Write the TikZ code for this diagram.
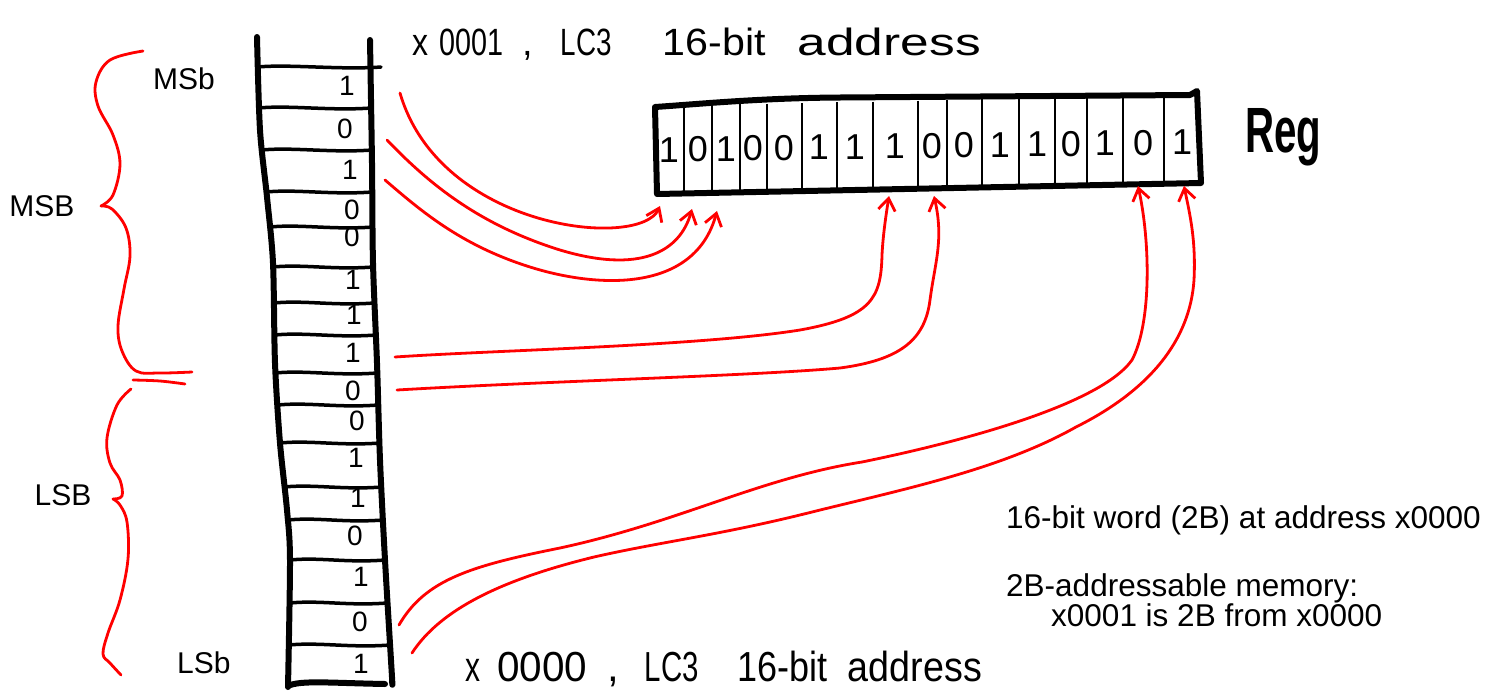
\documentclass[tikz,border=0pt]{standalone}
\usepackage{fontspec}
\usepackage{graphicx}
\setmainfont{Liberation Sans}
\usetikzlibrary{arrows.meta}
\newcommand{\hw}[2]{\resizebox{#1}{\height}{#2}}
\tikzset{
  memedge/.style={line width=6pt, line cap=round, line join=round},
  rowline/.style={line width=3.5pt, line cap=round},
  regbox/.style={line width=6pt, line join=round, line cap=round},
  regdiv/.style={line width=2.6pt},
  redarrow/.style={red, line width=2.8pt, line cap=round, -{Straight Barb[length=12pt,width=17pt]}},
  bracestroke/.style={red, line width=2.8pt, line cap=round, line join=round},
  membit/.style={font=\fontsize{28}{32}\selectfont, inner sep=0pt},
  regbit/.style={font=\fontsize{36}{40}\selectfont, inner sep=0pt},
  label/.style={font=\fontsize{30}{36}\selectfont, inner sep=0pt},
  note/.style={font=\fontsize{31.5}{36}\selectfont, inner sep=0pt, anchor=base west},
  hand/.style={inner sep=0pt, anchor=base west},
}
\begin{document}
\begin{tikzpicture}[x=1pt,y=-1pt]
\useasboundingbox (0,0) rectangle (1492,691);

% ---------------- memory column ----------------
\draw[memedge] plot[smooth] coordinates {(257,37) (260,130) (267,197) (273,263) (275,363) (280,443) (287,510) (290,560) (288,687)};
\draw[memedge] plot[smooth] coordinates {(370,40) (372,163) (373,263) (377,363) (380,460) (385,560) (392,677) (392,680)};
\draw[memedge] (288,686) .. controls (300,680) and (330,683) .. (385,684);
\foreach \y/\l/\r in {67/258/381,108/259/371,150/262/372,192/266/372,227/270/373,267/273/373,303/274/374,335/275/376,373/275/377,405/278/378,443/280/380,487/284/382,520/288/383,560/290/385,603/290/387,645/289/390}
  \draw[rowline] (\l,\y) .. controls ({\l+30},{\y-3}) and ({\r-40},{\y+3}) .. (\r,\y);

% memory bits (MSb at top)
\node[membit] (m1)  at (347,86)  {1};
\node[membit] (m2)  at (345,129) {0};
\node[membit] (m3)  at (350,170) {1};
\node[membit] (m4)  at (352,210) {0};
\node[membit] (m5)  at (352,237) {0};
\node[membit] (m6)  at (353,280) {1};
\node[membit] (m7)  at (354,315) {1};
\node[membit] (m8)  at (353,353) {1};
\node[membit] (m9)  at (353,391) {0};
\node[membit] (m10) at (357,421) {0};
\node[membit] (m11) at (356,458) {1};
\node[membit] (m12) at (358,498) {1};
\node[membit] (m13) at (355,536) {0};
\node[membit] (m14) at (361,577) {1};
\node[membit] (m15) at (360,622) {0};
\node[membit] (m16) at (361,664) {1};

% ---------------- register ----------------
\draw[regbox] (655,107) .. controls (700,104) and (760,98) .. (840,97.5) -- (1190,95) -- (1197,91) -- (1201,183) -- (657,194) -- cycle;
\foreach \x in {684,712,740,767,802,837,873,918,947,982,1019,1055,1087,1123,1164}
  \draw[regdiv] (\x,{106-11*(\x-655)/540}) -- (\x,{193-10*(\x-655)/545});
\foreach \i/\x/\b in {1/669/1,2/698/0,3/726/1,4/753/0,5/784/0,6/819/1,7/855/1,8/895/1,9/932/0,10/964/0,11/1000/1,12/1037/1,13/1071/0,14/1105/1,15/1143/0,16/1182/1}
  \node[regbit] (r\i) at (\x,{150-8*(\x-655)/545}) {\b};

\node[inner sep=0pt, anchor=base west, font=\bfseries\fontsize{64}{70}\selectfont] (reglbl) at (1245,152) {\hw{76pt}{Reg}};

% ---------------- connectors ----------------
\coordinate (s1) at (400,93);  \coordinate (e1) at (660,206);
\coordinate (s2) at (387,140); \coordinate (e2) at (692,209);
\coordinate (s3) at (385,180); \coordinate (e3) at (717,211);
\coordinate (s4) at (395,357); \coordinate (e4) at (889,196);
\coordinate (s5) at (397,390); \coordinate (e5) at (934,196);
\coordinate (s6) at (399,625); \coordinate (e6) at (1138,186);
\coordinate (s7) at (412,653); \coordinate (e7) at (1184,186);

\draw[redarrow] (s1) .. controls (440,230) and (640,250) .. (e1);
\draw[redarrow] (s2) .. controls (430,185) and (480,225) .. (560,250) .. controls (640,274) and (680,252) .. (e2);
\draw[redarrow] (s3) .. controls (420,210) and (460,245) .. (530,267) .. controls (600,289) and (695,292) .. (e3);
\draw[redarrow] (s4) .. controls (500,350) and (700,346) .. (800,330) .. controls (872,317) and (881,298) .. (882,255) .. controls (883,235) and (886,215) .. (e4);
\draw[redarrow] (s5) .. controls (550,381) and (750,376) .. (840,368) .. controls (900,360) and (925,340) .. (930,300) .. controls (935,262) and (944,240) .. (e5);
\draw[redarrow] (s6) .. controls (425,580) and (470,566) .. (560,548) .. controls (680,522) and (760,478) .. (862,462) .. controls (960,442) and (1100,405) .. (1132,360) .. controls (1152,322) and (1150,240) .. (e6);
\draw[redarrow] (s7) .. controls (440,610) and (500,580) .. (594,557) .. controls (660,542) and (720,535) .. (808,513) .. controls (900,490) and (1000,470) .. (1076,427) .. controls (1150,390) and (1190,340) .. (1194,280) .. controls (1196,240) and (1190,215) .. (e7);

% ---------------- braces ----------------
\draw[bracestroke] plot[smooth, tension=0.6] coordinates {(143,51) (110,60) (96,82) (98,106) (113,135) (120,164) (113,195) (101,206)};
\draw[bracestroke] plot[smooth, tension=0.6] coordinates {(101,206) (112,209) (126,228) (130,256) (124,289) (118,326) (122,351) (136,371) (160,373) (192,372)};
\draw[bracestroke] plot[smooth, tension=0.6] coordinates {(133,380) (160,381) (185,384)};
\draw[bracestroke] plot[smooth, tension=0.6] coordinates {(131,389) (117,405) (107,438) (110,463) (120,480) (122,496) (113,499)};
\draw[bracestroke] plot[smooth, tension=0.6] coordinates {(113,499) (120,505) (127,522) (128,559) (120,600) (108,633) (103,654) (110,663) (121,675)};

% ---------------- labels ----------------
\node[label] (msb1) at (184,79) {MSb};
\node[label] (msb2) at (42,206) {MSB};
\node[label] (lsb2) at (63,495) {LSB};
\node[label, anchor=west] (lsb1) at (177,663) {LSb};

\node[hand, font=\fontsize{38}{44}\selectfont] (addr1) at (412,55)
  {\hw{16pt}{x}\hspace{11pt}\hw{64pt}{0001}\hspace{19pt},\hspace{28pt}\hw{51pt}{LC3}\hspace{51pt}\hw{103pt}{16-bit}\hspace{32pt}\hw{183pt}{address}};
\node[hand, font=\fontsize{42}{48}\selectfont] (addr0) at (465,681)
  {\hw{15pt}{x}\hspace{17pt}\hw{90pt}{0000}\hspace{20pt},\hspace{26pt}\hw{54pt}{LC3}\hspace{39pt}\hw{90pt}{16-bit}\hspace{20pt}\hw{134pt}{address}};

\node[note] (note1) at (1006,528) {16-bit word (2B) at address x0000};
\node[note] (note2) at (1006,596) {2B-addressable memory:};
\node[note] (note3) at (1051,626) {x0001 is 2B from x0000};
\end{tikzpicture}
\end{document}
